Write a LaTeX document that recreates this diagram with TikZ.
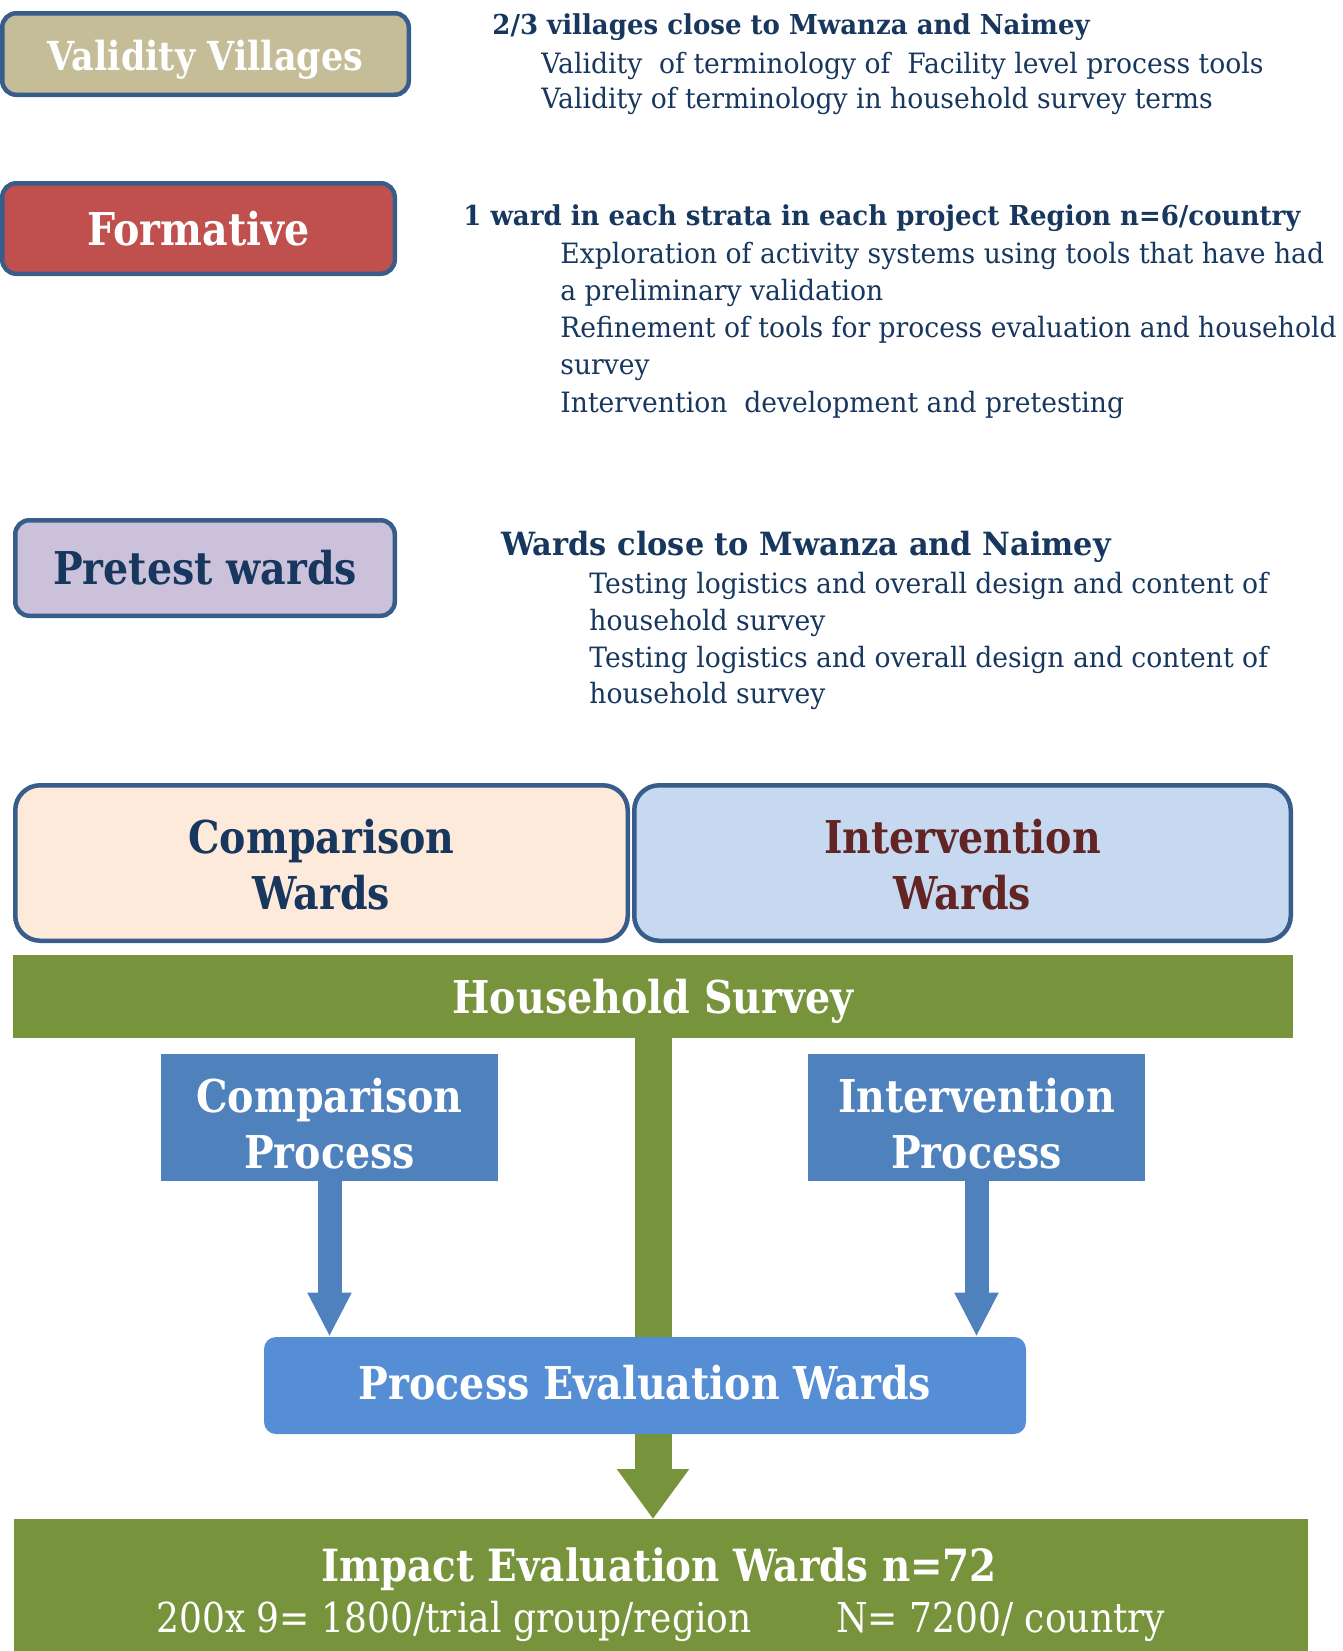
\documentclass[tikz,border=0pt]{standalone}
\usepackage{fontspec}
\setmainfont{DejaVu Serif}[FakeStretch=0.95]
\newfontfamily\boxf{DejaVu Serif}[FakeStretch=0.875]
\usetikzlibrary{arrows.meta}
\definecolor{navy}{HTML}{17375E}
\definecolor{bordc}{HTML}{385D8A}
\definecolor{tanf}{HTML}{C4BD97}
\definecolor{redf}{HTML}{C0504D}
\definecolor{lavf}{HTML}{CCC1DA}
\definecolor{peachf}{HTML}{FDEADA}
\definecolor{lbluef}{HTML}{C6D9F1}
\definecolor{dred}{HTML}{632523}
\definecolor{grn}{HTML}{77933C}
\definecolor{pblue}{HTML}{4F81BD}
\definecolor{eblue}{HTML}{558ED5}
\tikzset{
  rbox/.style={draw=bordc, line width=2.25pt, rounded corners=7pt, inner sep=0pt, align=center, text height=16.5pt, text depth=0pt},
  ttl/.style={font=\boxf\fontsize{22.6}{28}\selectfont\bfseries},
  plainbox/.style={inner sep=0pt, align=center, text height=16.5pt, text depth=0pt},
  body/.style={anchor=base west, inner sep=0pt, text=navy, font=\fontsize{14}{18.7}\selectfont},
  head/.style={anchor=base west, inner sep=0pt, text=navy, font=\fontsize{13.7}{18.7}\selectfont\bfseries},
  greenline/.style={draw=grn, line width=18.5pt},
  greenarrow/.style={draw=grn, line width=18.5pt, -{Triangle[width=34.5pt,length=25pt]}},
  bluearrow/.style={draw=pblue, line width=12pt, -{Triangle[width=20.5pt,length=22pt]}},
}
\begin{document}
\begin{tikzpicture}[x=0.5pt,y=-0.5pt]
\useasboundingbox (0,0) rectangle (1343,1651);
% left boxes
\node[rbox, fill=tanf, text=white, minimum width=203.25pt, minimum height=40.75pt, font=\boxf\fontsize{20}{26}\selectfont\bfseries, text height=16pt] (valid) at (205.5,54) {Validity Villages};
\node[rbox, fill=redf, text=white, ttl, minimum width=196.25pt, minimum height=45.25pt] (form) at (198.5,228.5) {Formative};
\node[rbox, fill=lavf, text=navy, ttl, minimum width=189.75pt, minimum height=47.75pt] (pret) at (205,568) {Pretest wards};
% text blocks
\node[head] (h1) at (492,34) {2/3 villages close to Mwanza and Naimey};
\node[body] (t11) at (541,73) {Validity\ \ of terminology of\ \ Facility level process tools};
\node[body] (t12) at (541,108) {Validity of terminology in household survey terms};
\node[head] (h2) at (463,225) {1 ward in each strata in each project Region n=6/country};
\node[body] (t21) at (560,263) {Exploration of activity systems using tools that have had};
\node[body] (t22) at (560,300) {a preliminary validation};
\node[body] (t23) at (560,337) {Refinement of tools for process evaluation and household};
\node[body] (t24) at (560,374) {survey};
\node[body] (t25) at (560,412) {Intervention\ \ development and pretesting};
\node[head, font=\fontsize{16}{20}\selectfont\bfseries] (h3) at (501,555) {Wards close to Mwanza and Naimey};
\node[body] (t31) at (589,593) {Testing logistics and overall design and content of};
\node[body] (t32) at (589,630) {household survey};
\node[body] (t33) at (589,667) {Testing logistics and overall design and content of};
\node[body] (t34) at (589,703) {household survey};
% wards
\node[rbox, rounded corners=12.5pt, fill=peachf, text=navy, ttl, text height=46pt, minimum width=306.25pt, minimum height=77.75pt] (cw) at (321.5,863) {Comparison\\Wards};
\node[rbox, rounded corners=12.5pt, fill=lbluef, text=dred, ttl, text height=46pt, minimum width=328.25pt, minimum height=77.75pt] (iw) at (962.5,863) {Intervention\\Wards};
% household survey
\node[plainbox, fill=grn, text=white, ttl, minimum width=640pt, minimum height=41.5pt] (hs) at (653,996.5) {Household Survey};
% process boxes
\node[plainbox, fill=pblue, text=white, ttl, text height=50.5pt, minimum width=168.5pt, minimum height=63.5pt] (cp) at (329.5,1117.5) {Comparison\\Process};
\node[plainbox, fill=pblue, text=white, ttl, text height=50.5pt, minimum width=168.5pt, minimum height=63.5pt] (ip) at (976.5,1117.5) {Intervention\\Process};
% connectors
\draw[greenline] (hs.south) -- (hs.south |- 0,1340);
\node[plainbox, fill=eblue, text=white, ttl, text height=14pt, rounded corners=6pt, minimum width=381pt, minimum height=48.5pt] (pe) at (645,1385.5) {Process Evaluation Wards};
\node[inner sep=0pt, fill=grn, minimum width=647pt, minimum height=80pt, anchor=north] (imp) at (661,1519) {};
\draw[bluearrow] (cp.south) -- (cp.south |- pe.north);
\draw[bluearrow] (ip.south) -- (ip.south |- pe.north);
\draw[greenarrow] (pe.south -| hs.south) -- (imp.north -| hs.south);
% impact text
\node[anchor=base, inner sep=0pt, text=white, font=\boxf\fontsize{22.2}{28}\selectfont\bfseries] (imp1) at (659,1581) {Impact Evaluation Wards n=72};
\node[anchor=base west, inner sep=0pt, text=white, font=\boxf\fontsize{20.6}{26}\selectfont] (imp2) at (156,1632) {200x 9= 1800/trial group/region};
\node[anchor=base west, inner sep=0pt, text=white, font=\boxf\fontsize{20.6}{26}\selectfont] (imp3) at (836,1632) {N= 7200/ country};
\end{tikzpicture}
\end{document}
